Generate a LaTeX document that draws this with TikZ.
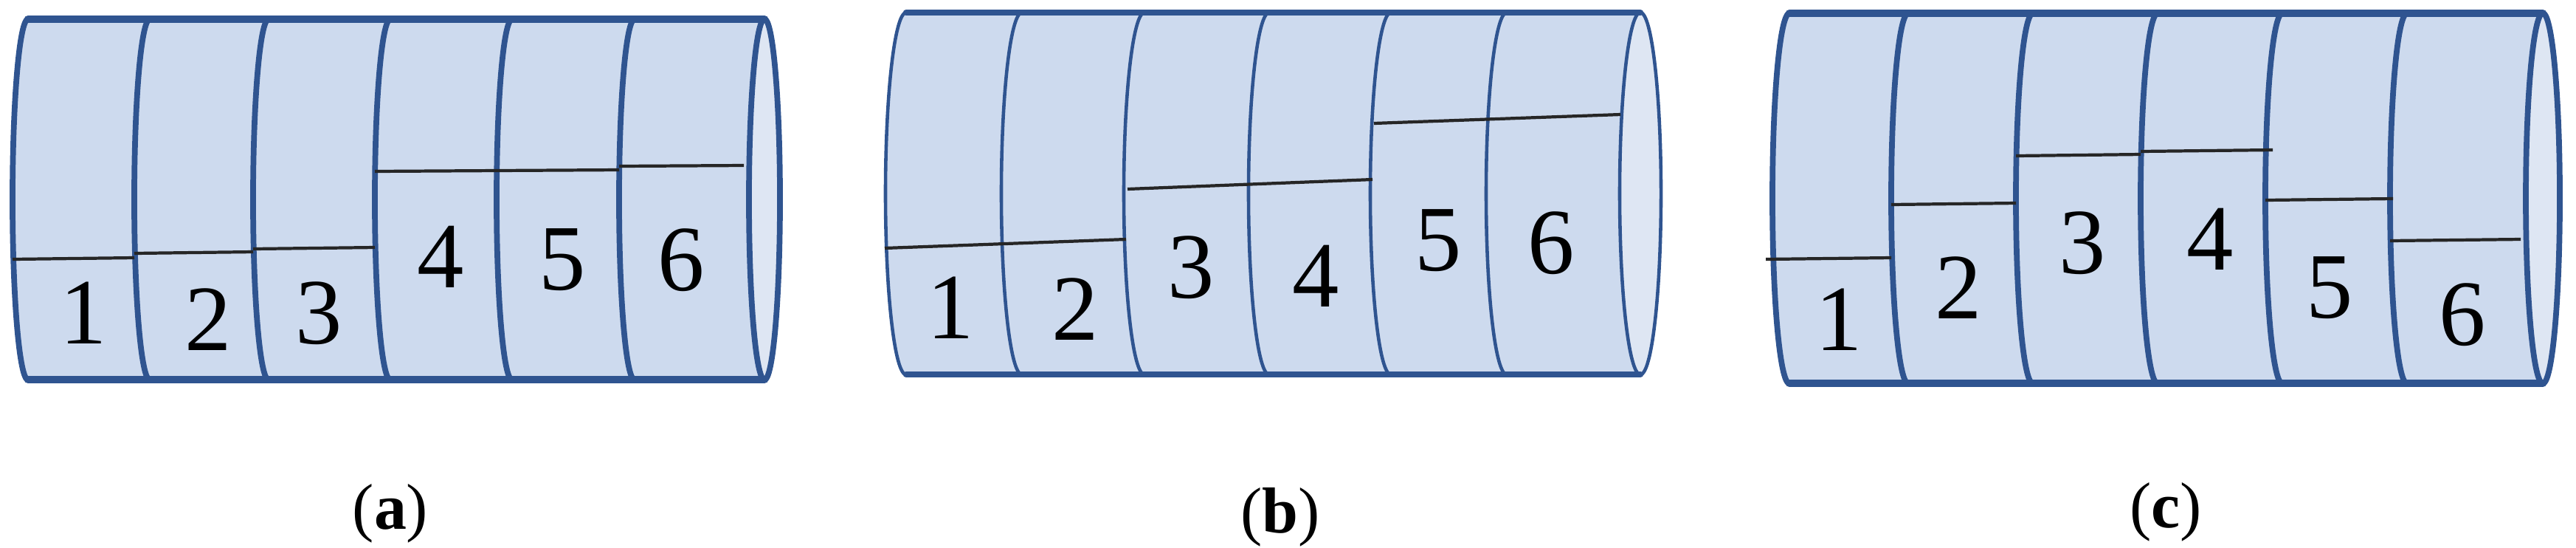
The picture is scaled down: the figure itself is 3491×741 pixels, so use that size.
\documentclass[tikz,border=0pt]{standalone}
\usepackage{fontspec}
\setmainfont{Liberation Serif}
\definecolor{cfill}{HTML}{CDDAEE}
\definecolor{efill}{HTML}{DEE6F3}
\definecolor{cline}{HTML}{2F5490}
\tikzset{
  seg/.style={line width=1.2pt, black!85},
  digit/.style={font=\fontsize{36}{40}\selectfont, inner sep=0pt},
  captext/.style={font=\fontsize{25}{28}\selectfont, inner sep=0pt}
}
% #1 top, #2 bottom, #3 rx, #4 divider width, #5 left center, #6 inner list, #7 end center, #8 outline width
\newcommand\drawcyl[8]{%
  \pgfmathsetmacro\myry{(#2-#1)/200}%
  \pgfmathsetmacro\myrx{#3/100}%
  \pgfmathsetmacro\mymid{-(#1+#2)/2}%
  \fill[cfill] (#5,-#1) -- (#7,-#1) arc[start angle=90,end angle=-90,x radius=\myrx cm,y radius=\myry cm]
     -- (#5,-#2) arc[start angle=270,end angle=90,x radius=\myrx cm,y radius=\myry cm] -- cycle;
  \draw[cline, line width=#4, fill=efill] (#7,\mymid) ellipse[x radius=\myrx cm,y radius=\myry cm];
  \foreach \c in {#5,#6} {
    \draw[cline, line width=#4] (\c,-#1) arc[start angle=90,end angle=270,x radius=\myrx cm,y radius=\myry cm];
  }
  \draw[cline, line width=#8, line cap=round] (#5,-#1) -- (#7,-#1);
  \draw[cline, line width=#8, line cap=round] (#5,-#2) -- (#7,-#2);
}
\begin{document}
\begin{tikzpicture}[x=0.01cm,y=0.01cm]
\useasboundingbox (0,0) rectangle (3491,-741);
% (a)
\drawcyl{26}{514}{21}{2.2pt}{38}{203,364,529,694,860}{1036}{3pt}
\draw[seg] (17,-351) -- (182,-349);
\draw[seg] (182,-343) -- (343,-341);
\draw[seg] (343,-337) -- (508,-335);
\draw[seg] (508,-232) -- (673,-231);
\draw[seg] (673,-231) -- (839,-230);
\draw[seg] (839,-225) -- (1008,-224);
\node[digit] (a1) at (113,-424) {1};
\node[digit] (a2) at (282,-433) {2};
\node[digit] (a3) at (432,-424) {3};
\node[digit] (a4) at (597,-348) {4};
\node[digit] (a5) at (762,-352) {5};
\node[digit] (a6) at (923,-352) {6};
\node[captext] (la) at (529,-695) {(\textbf{a})};
% (b)
\drawcyl{17}{507}{28}{1.3pt}{1228}{1385,1551,1720,1885,2042}{2223}{2.4pt}
\draw[seg] (1199,-336) -- (1526,-324);
\draw[seg] (1528,-256) -- (1860,-243);
\draw[seg] (1862,-167) -- (2196,-155);
\node[digit] (b1) at (1288,-417) {1};
\node[digit] (b2) at (1457,-419) {2};
\node[digit] (b3) at (1614,-362) {3};
\node[digit] (b4) at (1783,-374) {4};
\node[digit] (b5) at (1949,-326) {5};
\node[digit] (b6) at (2102,-329) {6};
\node[captext] (lb) at (1735,-700) {(\textbf{b})};
% (c)
\drawcyl{18}{519}{23}{2.2pt}{2425}{2586,2755,2924,3093,3262}{3446}{3pt}
\draw[seg] (2393,-351) -- (2563,-349);
\draw[seg] (2563,-277) -- (2732,-275);
\draw[seg] (2732,-211) -- (2901,-209);
\draw[seg] (2901,-205) -- (3080,-203);
\draw[seg] (3070,-271) -- (3243,-269);
\draw[seg] (3239,-326) -- (3416,-324);
\node[digit] (c1) at (2492,-433) {1};
\node[digit] (c2) at (2654,-390) {2};
\node[digit] (c3) at (2822,-329) {3};
\node[digit] (c4) at (2995,-324) {4};
\node[digit] (c5) at (3157,-390) {5};
\node[digit] (c6) at (3337,-426) {6};
\node[captext] (lc) at (2935,-693) {(\textbf{c})};
\end{tikzpicture}
\end{document}
